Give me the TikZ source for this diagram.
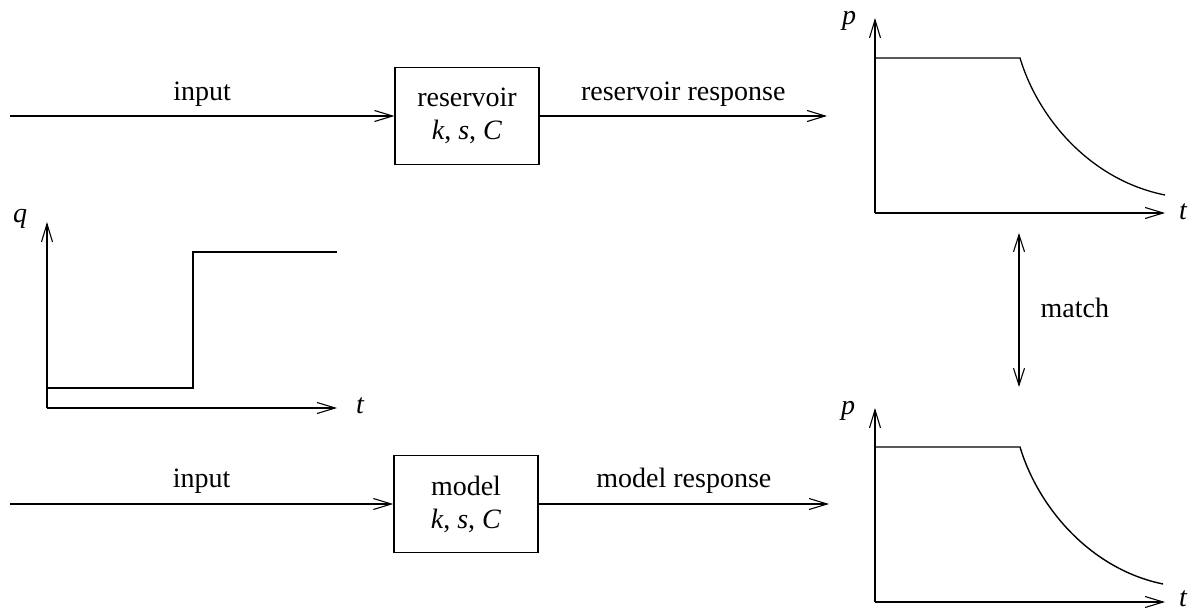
\documentclass[tikz,border=0pt]{standalone}
\usepackage{fontspec}
\setmainfont{Liberation Serif}
\usetikzlibrary{arrows.meta}
\begin{document}
\begin{tikzpicture}[x=1pt,y=-1pt,
  line width=1.3pt,
  barb/.style={-{Straight Barb[length=18pt,width=11pt,line width=1.1pt]}},
  dbarb/.style={{Straight Barb[length=17pt,width=11pt,line width=1.1pt]}-{Straight Barb[length=17pt,width=11pt,line width=1.1pt]}},
  blk/.style={draw, minimum width=144pt, minimum height=97pt, inner sep=0pt, align=center,
    font=\fontsize{28}{33}\selectfont},
  lbl/.style={font=\fontsize{28}{33}\selectfont},
  thin row/.style={line width=1.1pt},
  thick row/.style={line width=1.8pt},
  var/.style={font=\fontsize{28}{33}\selectfont\itshape, inner sep=0pt, anchor=base}]
\useasboundingbox (0,0) rectangle (1200,610);

% ---- top row ----
\coordinate (in1) at (10,116);
\node[blk, thin row] (res) at (467,116) {reservoir\\\textit{k}, \textit{s}, \textit{C}};
\coordinate (out1) at (827,116);
\draw[barb, thin row] (in1) -- (res.west) node[lbl, midway, above=6pt] {input};
\draw[barb, thin row] (res.east) -- (out1) node[lbl, midway, above=6pt] {reservoir response};

% ---- bottom row ----
\coordinate (in2) at (10,504);
\node[blk, line width=1.5pt] (mod) at (466,504) {model\\\textit{k}, \textit{s}, \textit{C}};
\coordinate (out2) at (829,504);
\draw[barb, thick row] (in2) -- (mod.west) node[lbl, midway, above=6pt] {input};
\draw[barb, thick row] (mod.east) -- (out2) node[lbl, midway, above=6pt] {model response};

% ---- step input plot ----
\draw[barb, line width=1.5pt] (47,408) -- (47,222);
\draw[barb, line width=1.6pt] (47,408) -- (337,408);
\draw[line width=1.4pt] (47,388) -- (193,388) -- (193,252) -- (337,252);
\node[var] (q1) at (20,222) {q};
\node[var] (t0) at (360,413) {t};

% ---- reservoir response plot ----
\draw[barb] (875,213) -- (875,18);
\draw[barb] (875,213) -- (1165,213);
\draw (875,58) -- (1020,58) .. controls (1038,118) and (1090,180) .. (1165,195);
\node[var] (p1) at (849,25) {p};
\node[var] (t1) at (1183,219) {t};

% ---- model response plot ----
\draw[barb, line width=1.5pt] (875,602) -- (875,408);
\draw[barb, line width=1.5pt] (875,602) -- (1165,602);
\draw[line width=1.4pt] (875,447) -- (1020,447) .. controls (1038,507) and (1090,569) .. (1163,584);
\node[var] (p2) at (848,414) {p};
\node[var] (t2) at (1183,606) {t};

% ---- match ----
\coordinate (m1) at (1019,233);
\coordinate (m2) at (1019,387);
\draw[dbarb, line width=1.1pt] (m1) -- (m2);
\node[lbl, anchor=base west, inner sep=0pt] (match) at (1040,317) {match};
\end{tikzpicture}
\end{document}
